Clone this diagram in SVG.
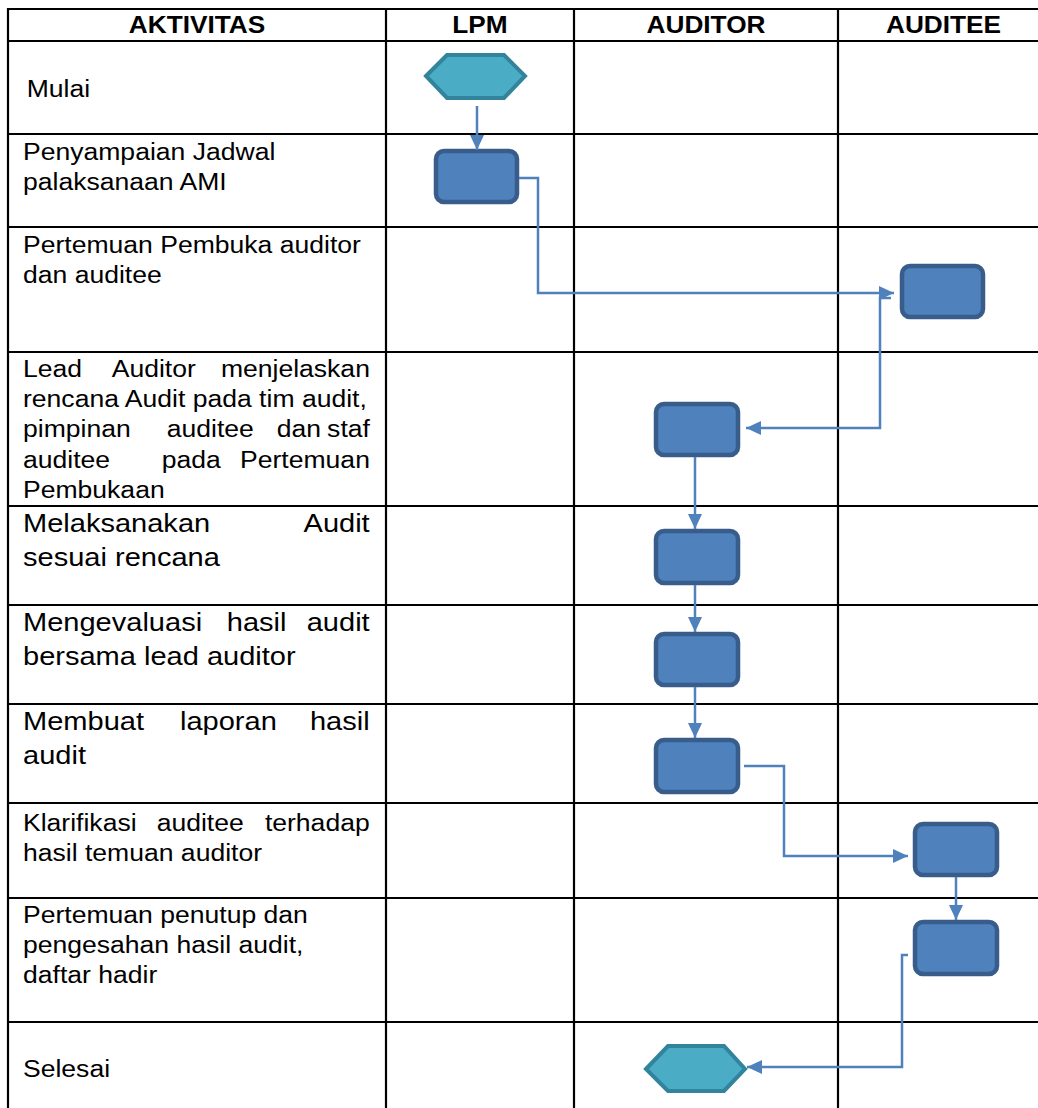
<svg xmlns="http://www.w3.org/2000/svg" width="1038" height="1108" viewBox="0 0 1038 1108">
<style>
.grid line{stroke:#000;stroke-width:2.2}
.h{font-family:"Liberation Sans",Arial,sans-serif;font-weight:bold;font-size:24.5px;text-anchor:middle;fill:#000}
.s{font-family:"Liberation Sans",Arial,sans-serif;font-size:23.5px;fill:#000}
.l{font-family:"Liberation Sans",Arial,sans-serif;font-size:25.7px;fill:#000}
.e{text-anchor:end}
.proc{fill:#4f81bd;stroke:#385d8a;stroke-width:4.5}
.term{fill:#4bacc6;stroke:#31849b;stroke-width:4}
.conn path{fill:none;stroke:#4f81bd;stroke-width:2.5;marker-end:url(#ah)}
</style>
<defs>
<marker id="ah" markerUnits="userSpaceOnUse" markerWidth="15" markerHeight="14" viewBox="0 0 15 14" refX="15" refY="7" orient="auto">
<path d="M0,0 L15,7 L0,14 z" fill="#4f81bd"/>
</marker>
</defs>
<rect width="1038" height="1108" fill="#fff"/>
<g class="grid" id="table">
<line x1="7" y1="9" x2="1038" y2="9"/>
<line x1="7" y1="41" x2="1038" y2="41"/>
<line x1="7" y1="134" x2="1038" y2="134"/>
<line x1="7" y1="227" x2="1038" y2="227"/>
<line x1="7" y1="352" x2="1038" y2="352"/>
<line x1="7" y1="506" x2="1038" y2="506"/>
<line x1="7" y1="605" x2="1038" y2="605"/>
<line x1="7" y1="704" x2="1038" y2="704"/>
<line x1="7" y1="803" x2="1038" y2="803"/>
<line x1="7" y1="898" x2="1038" y2="898"/>
<line x1="7" y1="1022" x2="1038" y2="1022"/>
<line x1="8" y1="8" x2="8" y2="1108"/>
<line x1="386" y1="8" x2="386" y2="1108"/>
<line x1="574" y1="8" x2="574" y2="1108"/>
<line x1="838" y1="8" x2="838" y2="1108"/>
</g>
<g id="header">
<text class="h" transform="translate(197 33) scale(1.07 1)">AKTIVITAS</text>
<text class="h" transform="translate(480 33) scale(1.07 1)">LPM</text>
<text class="h" transform="translate(706 33) scale(1.07 1)">AUDITOR</text>
<text class="h" transform="translate(943.5 33) scale(1.07 1)">AUDITEE</text>
</g>
<g id="activities">
<text class="s" transform="translate(26.7 97) scale(1.13 1)">Mulai</text>
<text class="s" transform="translate(23 160) scale(1.13 1)">Penyampaian Jadwal</text>
<text class="s" transform="translate(23 190) scale(1.13 1)">palaksanaan AMI</text>
<text class="s" transform="translate(23 253) scale(1.13 1)">Pertemuan Pembuka auditor</text>
<text class="s" transform="translate(23 283) scale(1.13 1)">dan auditee</text>
<text class="s" transform="translate(23 377) scale(1.13 1)"><tspan x="0">Lead</tspan><tspan x="78.5">Auditor</tspan><tspan class="e" x="307">menjelaskan</tspan></text>
<text class="s" transform="translate(23 407) scale(1.13 1)">rencana Audit pada tim audit,</text>
<text class="s" transform="translate(23 437) scale(1.13 1)"><tspan x="0">pimpinan</tspan><tspan x="127.2">auditee</tspan><tspan x="224.5">dan</tspan><tspan class="e" x="307">staf</tspan></text>
<text class="s" transform="translate(23 468) scale(1.13 1)"><tspan x="0">auditee</tspan><tspan x="122.7">pada</tspan><tspan class="e" x="307">Pertemuan</tspan></text>
<text class="s" transform="translate(23 498) scale(1.13 1)">Pembukaan</text>
<text class="l" transform="translate(23 531.5) scale(1.13 1)"><tspan x="0">Melaksanakan</tspan><tspan class="e" x="306.8">Audit</tspan></text>
<text class="l" transform="translate(23 565.5) scale(1.13 1)">sesuai rencana</text>
<text class="l" transform="translate(23 630.5) scale(1.13 1)"><tspan x="0">Mengevaluasi</tspan><tspan x="180.3">hasil</tspan><tspan class="e" x="306.8">audit</tspan></text>
<text class="l" transform="translate(23 664.5) scale(1.13 1)">bersama lead auditor</text>
<text class="l" transform="translate(23 729.5) scale(1.13 1)"><tspan x="0">Membuat</tspan><tspan x="138.9">laporan</tspan><tspan class="e" x="306.8">hasil</tspan></text>
<text class="l" transform="translate(23 763.5) scale(1.13 1)">audit</text>
<text class="s" transform="translate(23 830.5) scale(1.13 1)"><tspan x="0">Klarifikasi</tspan><tspan x="118.3">auditee</tspan><tspan class="e" x="306.8">terhadap</tspan></text>
<text class="s" transform="translate(23 861) scale(1.13 1)">hasil temuan auditor</text>
<text class="s" transform="translate(23 922.7) scale(1.13 1)">Pertemuan penutup dan</text>
<text class="s" transform="translate(23 953.3) scale(1.13 1)">pengesahan hasil audit,</text>
<text class="s" transform="translate(23 983.3) scale(1.13 1)">daftar hadir</text>
<text class="s" transform="translate(23 1077) scale(1.13 1)">Selesai</text>
</g>
<g id="start"><polygon class="term" points="426,76 447,55 504,55 525,76 504,98 447,98"/></g>
<g id="lpm-jadwal"><rect class="proc" x="436" y="151" width="81" height="51" rx="8"/></g>
<g id="auditee-pembuka"><rect class="proc" x="902" y="266" width="81" height="51" rx="8"/></g>
<g id="auditor-rencana"><rect class="proc" x="656" y="404" width="82" height="51" rx="8"/></g>
<g id="auditor-melaksanakan"><rect class="proc" x="656" y="531" width="82" height="52" rx="8"/></g>
<g id="auditor-evaluasi"><rect class="proc" x="656" y="634" width="82" height="51" rx="8"/></g>
<g id="auditor-laporan"><rect class="proc" x="656" y="740" width="82" height="52" rx="8"/></g>
<g id="auditee-klarifikasi"><rect class="proc" x="915" y="824" width="82" height="51" rx="8"/></g>
<g id="auditee-penutup"><rect class="proc" x="915" y="922" width="82" height="52" rx="8"/></g>
<g id="end"><polygon class="term" points="646,1069 668,1046 724,1046 745,1069 724,1091 668,1091"/></g>
<g class="conn" id="connectors">
<path d="M477 106 V150"/>
<path d="M519 178 H538 V293 H894"/>
<path d="M891 298 H880 V428 H746"/>
<path d="M695 457 V529"/>
<path d="M695 585 V632"/>
<path d="M695 687 V738"/>
<path d="M744 766 H784 V856 H908"/>
<path d="M956 877 V920"/>
<path d="M908 955 H902 V1067 H747"/>
</g>
</svg>
